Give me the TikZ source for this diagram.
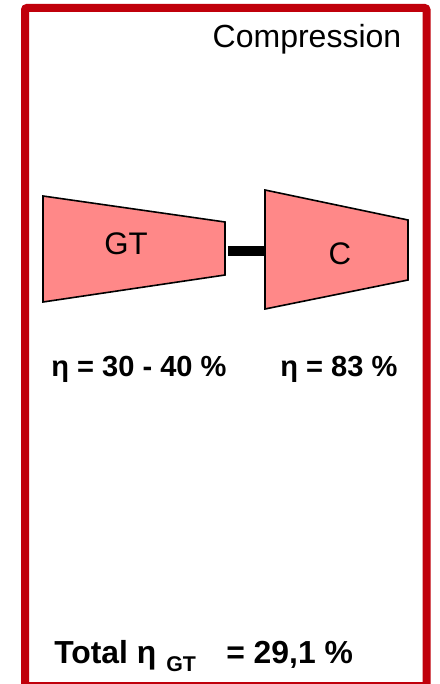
\documentclass[tikz,border=0pt]{standalone}
\usepackage{fontspec}
\setmainfont{Liberation Sans}
\definecolor{framered}{RGB}{192,0,11}
\definecolor{turbopink}{RGB}{255,136,136}
\tikzset{
  px/.style={x=0.75pt,y=-0.75pt},
  frameline/.style={draw=framered,line width=6pt,rounded corners=1.5pt},
  machine/.style={draw=black,fill=turbopink,line width=1.2pt,line join=miter},
  shaft/.style={draw=black,line width=7.5pt},
  plainlabel/.style={inner sep=0pt,font=\fontsize{24pt}{26pt}\selectfont},
  machinelabel/.style={inner sep=0pt,font=\fontsize{23.4pt}{26pt}\selectfont},
  etalabel/.style={inner sep=0pt,anchor=base west,font=\fontsize{21.8pt}{26pt}\selectfont\bfseries},
  totallabel/.style={inner sep=0pt,anchor=base west,font=\fontsize{23.9pt}{26pt}\selectfont\bfseries}
}
\begin{document}
\begin{tikzpicture}[px]
\useasboundingbox (0,0) rectangle (439,684);
\draw[frameline] (25,8) -- (426.5,8) -- (426.5,686) -- (25,686) -- cycle;
\node[plainlabel,anchor=base east] (title) at (401.5,48) {Compression};
\draw[machine] (43,196) -- (225,222) -- (225,275) -- (43,302) -- cycle;
\draw[machine] (265,190) -- (408,220) -- (408,280) -- (265,309) -- cycle;
\coordinate (gtout) at (228,251);
\coordinate (cin) at (265,251);
\draw[shaft] (gtout) -- (cin);
\node[machinelabel,anchor=base] (gt) at (126,254) {GT};
\node[machinelabel,anchor=base] (c) at (340,264) {C};
\node[etalabel] (etagt) at (51,376) {η = 30 - 40 \%};
\node[etalabel] (etac) at (280,376) {η = 83 \%};
\node[totallabel] (total) at (54,663) {Total η};
\node[inner sep=0pt,anchor=base west,font=\fontsize{16pt}{18pt}\selectfont\bfseries] (sub) at (166,671) {GT};
\node[totallabel] (value) at (226,663) {= 29,1 \%};
\end{tikzpicture}
\end{document}
